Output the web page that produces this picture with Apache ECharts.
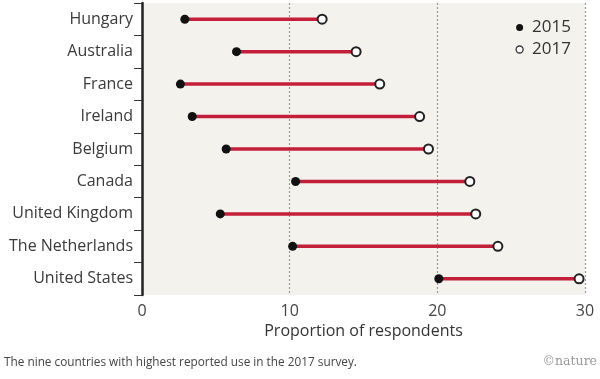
<!DOCTYPE html>
<html>
<head>
<meta charset="utf-8">
<script src="https://cdn.jsdelivr.net/npm/echarts@6/dist/echarts.min.js"></script>
<style>
html,body{margin:0;padding:0;background:#fff;}
#chart{width:600px;height:379px;}
</style>
</head>
<body>
<div id="chart"></div>
<script>
const countries = ['Hungary','Australia','France','Ireland','Belgium','Canada','United Kingdom','The Netherlands','United States'];
const values2015 = [2.9, 6.4, 2.6, 3.4, 5.7, 10.4, 5.3, 10.2, 20.1];
const values2017 = [12.2, 14.5, 16.1, 18.8, 19.4, 22.2, 22.6, 24.1, 29.6];
const xTicks = [0, 10, 20, 30];

const FONT = '"Open Sans", "Liberation Sans", sans-serif';
const chart = echarts.init(document.getElementById('chart'));
const rangeData = countries.map((c, i) => [values2015[i], values2017[i], c]);

chart.setOption({
  animation: false,
  textStyle: { fontFamily: FONT },
  grid: { left: 142, right: 15, top: 3, bottom: 84, show: true, backgroundColor: '#f4f2ec', borderWidth: 0 },
  legend: {
    orient: 'vertical', right: 24, top: 14, itemGap: 5, itemWidth: 7, itemHeight: 7,
    textStyle: { fontSize: 17, color: '#333', fontFamily: FONT, padding: [0, 0, 0, 4] },
    data: [
      { name: '2015', icon: 'circle', itemStyle: { color: '#111', borderWidth: 0 } },
      { name: '2017', icon: 'circle', itemStyle: { color: '#fff', borderColor: '#333', borderWidth: 1.3 } }
    ]
  },
  xAxis: {
    type: 'value', min: xTicks[0], max: xTicks[xTicks.length - 1], interval: 10,
    name: 'Proportion of respondents', nameLocation: 'middle', nameGap: 27,
    nameTextStyle: { fontSize: 16, color: '#333' },
    axisLine: { show: false }, axisTick: { show: false },
    axisLabel: { fontSize: 16, color: '#444', margin: 8 },
    splitLine: { show: true, lineStyle: { type: [2, 2], color: '#999', width: 1.2 } }
  },
  yAxis: {
    type: 'category', data: countries, inverse: true,
    axisLine: { show: true, lineStyle: { color: '#222', width: 2.5 } },
    axisTick: { show: true, length: 8, inside: false, lineStyle: { color: '#333', width: 1 } },
    axisLabel: { fontSize: 16, color: '#3a3a3a', margin: 9, padding: [3, 0, 0, 0] },
    splitLine: { show: false }
  },
  series: [
    {
      type: 'custom', name: 'range', silent: true, z: 2,
      data: rangeData,
      encode: { x: [0, 1], y: 2 },
      renderItem: function (params, api) {
        const p1 = api.coord([api.value(0), api.value(2)]);
        const p2 = api.coord([api.value(1), api.value(2)]);
        return {
          type: 'line',
          shape: { x1: p1[0], y1: p1[1], x2: p2[0], y2: p2[1] },
          style: { stroke: '#c41f3a', lineWidth: 3.5 }
        };
      }
    },
    {
      type: 'scatter', name: '2015', z: 3, symbol: 'circle', symbolSize: 9,
      data: countries.map((c, i) => [values2015[i], c]),
      itemStyle: { color: '#111', opacity: 1 }
    },
    {
      type: 'scatter', name: '2017', z: 3, symbol: 'circle', symbolSize: 9,
      data: countries.map((c, i) => [values2017[i], c]),
      itemStyle: { color: '#fff', borderColor: '#222', borderWidth: 2, opacity: 1 }
    }
  ],
  graphic: [
    { type: 'text', left: 4, top: 357, style: { text: 'The nine countries with highest reported use in the 2017 survey.', fontSize: 11.8, fill: '#444', fontFamily: FONT } },
    { type: 'text', right: 3, top: 355, style: { text: '©nature', fontSize: 12.5, fill: '#999', fontFamily: '"DejaVu Serif", "Liberation Serif", serif' } }
  ]
});
</script>
</body>
</html>
